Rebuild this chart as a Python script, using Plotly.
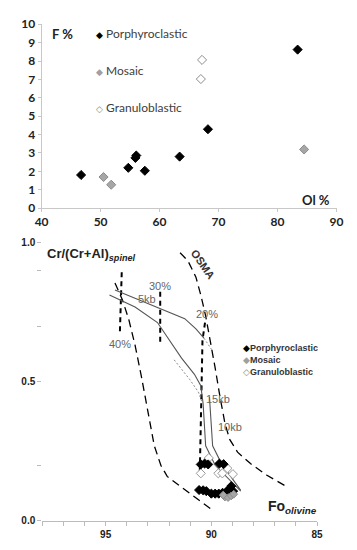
import plotly.graph_objects as go

# ---------------- Top panel: F % vs Ol % ----------------
top_porph_ol = [46.7, 54.7, 56.05, 55.9, 57.5, 63.4, 68.2, 83.4]
top_porph_f = [1.80, 2.19, 2.86, 2.73, 2.03, 2.80, 4.29, 8.62]
top_mosaic_ol = [50.5, 51.8, 84.5]
top_mosaic_f = [1.69, 1.27, 3.19]
top_gran_ol = [67.2, 67.0]
top_gran_f = [8.06, 7.02]
top_xticks = [40, 50, 60, 70, 80, 90]
top_yticks = [0, 1, 2, 3, 4, 5, 6, 7, 8, 9, 10]

# ---------------- Bottom panel: Cr# spinel vs Fo olivine ----------------
bot_porph_fo = [90.50, 90.32, 90.15, 89.62, 89.42, 90.58, 90.39, 90.24, 90.00,
                89.82, 89.65, 89.47, 89.29, 89.17, 89.06, 88.97]
bot_porph_cr = [0.203, 0.206, 0.203, 0.206, 0.204, 0.111, 0.110, 0.107, 0.098,
                0.098, 0.098, 0.101, 0.105, 0.113, 0.125, 0.107]
bot_mosaic_fo = [89.36, 89.21, 89.06, 88.94, 89.44]
bot_mosaic_cr = [0.086, 0.084, 0.090, 0.096, 0.093]
bot_gran_fo = [90.50, 90.12, 89.67, 89.48, 89.24, 88.98]
bot_gran_cr = [0.171, 0.226, 0.171, 0.171, 0.189, 0.168]

# dashed envelope curves
env_left_fo = [94.56, 94.21, 93.91, 93.61, 93.30, 93.00, 92.70, 92.39, 92.09, 91.48, 90.88, 89.97]
env_left_cr = [0.855, 0.795, 0.725, 0.632, 0.515, 0.387, 0.270, 0.200, 0.160, 0.125, 0.090, 0.040]
osma_fo = [91.48, 91.11, 90.73, 90.50, 90.27, 90.05, 89.82, 89.59, 89.36, 89.14, 88.76, 88.15, 87.39, 86.48]
osma_cr = [0.964, 0.935, 0.876, 0.812, 0.737, 0.649, 0.550, 0.445, 0.352, 0.294, 0.247, 0.206, 0.165, 0.125]

# melting isopleths (vertical dashes)
iso40_fo = [94.24, 94.33]
iso40_cr = [0.894, 0.672]
iso30_fo = [92.42, 92.42]
iso30_cr = [0.824, 0.638]
iso20_fo = [90.30, 90.42, 90.48, 90.55]
iso20_cr = [0.713, 0.649, 0.420, 0.166]

# solid melting trends
line5_fo = [94.56, 93.55, 92.55, 91.26, 90.73, 90.35]
line5_cr = [0.830, 0.798, 0.766, 0.727, 0.690, 0.657]
line5ext_fo = [90.35, 89.97]
line5ext_cr = [0.657, 0.614]
lineA_fo = [94.82, 93.61, 92.55, 91.94, 91.41, 90.80, 90.50, 90.39, 90.27, 89.82, 89.06, 88.61]
lineA_cr = [0.812, 0.769, 0.713, 0.643, 0.585, 0.527, 0.486, 0.422, 0.270, 0.200, 0.142, 0.107]
lineDot_fo = [91.76, 91.03, 90.61, 90.42]
lineDot_cr = [0.579, 0.509, 0.463, 0.422]
line15_fo = [90.09, 89.94, 89.52, 88.98, 88.61]
line15_cr = [0.445, 0.270, 0.206, 0.148, 0.110]

bot_xticks = [95, 90, 85]
bot_xminor = [98, 97, 96, 94, 93, 92, 91, 89, 88, 87, 86]
bot_yticks = [0.0, 0.5, 1.0]
bot_yminor = [0.2, 0.7, 0.9]

# curve labels: (text, Fo, Cr)
curve_labels = [("40%", 94.33, 0.635), ("30%", 92.42, 0.846), ("20%", 90.20, 0.745),
                ("5kb", 93.05, 0.797), ("15kb", 89.67, 0.438), ("10kb", 89.14, 0.337)]

fig = go.Figure()

# ---- top traces
fig.add_trace(go.Scatter(x=top_porph_ol, y=top_porph_f, mode="markers", xaxis="x", yaxis="y",
                         marker=dict(symbol="diamond", size=7, color="black",
                                     line=dict(color="black", width=1)), showlegend=False))
fig.add_trace(go.Scatter(x=top_mosaic_ol, y=top_mosaic_f, mode="markers", xaxis="x", yaxis="y",
                         marker=dict(symbol="diamond", size=7, color="#a6a6a6",
                                     line=dict(color="#8c8c8c", width=1)), showlegend=False))
fig.add_trace(go.Scatter(x=top_gran_ol, y=top_gran_f, mode="markers", xaxis="x", yaxis="y",
                         marker=dict(symbol="diamond", size=7, color="white",
                                     line=dict(color="#8c8c8c", width=1)), showlegend=False))

# ---- bottom lines
def add_line(xs, ys, color="black", width=1.3, dash="solid"):
    fig.add_trace(go.Scatter(x=xs, y=ys, mode="lines", xaxis="x2", yaxis="y2",
                             line=dict(color=color, width=width, dash=dash),
                             showlegend=False, hoverinfo="skip"))

add_line(env_left_fo, env_left_cr, "black", 1.3, "8px,5px")
add_line(osma_fo, osma_cr, "black", 1.3, "8px,5px")
add_line(iso40_fo, iso40_cr, "black", 2, "5px,4px")
add_line(iso30_fo, iso30_cr, "black", 2, "5px,4px")
add_line(iso20_fo, iso20_cr, "black", 2, "5px,4px")
add_line(line5_fo, line5_cr, "#555555", 1.1)
add_line(line5ext_fo, line5ext_cr, "#888888", 1, "2px,2px")
add_line(lineA_fo, lineA_cr, "#555555", 1.1)
add_line(lineDot_fo, lineDot_cr, "#888888", 1, "2px,2px")
add_line(line15_fo, line15_cr, "#555555", 1.1)

# ---- bottom markers
fig.add_trace(go.Scatter(x=bot_gran_fo, y=bot_gran_cr, mode="markers", xaxis="x2", yaxis="y2",
                         marker=dict(symbol="diamond", size=7, color="white",
                                     line=dict(color="#999999", width=1)), showlegend=False))
fig.add_trace(go.Scatter(x=bot_porph_fo, y=bot_porph_cr, mode="markers", xaxis="x2", yaxis="y2",
                         marker=dict(symbol="diamond", size=7, color="black",
                                     line=dict(color="black", width=1)), showlegend=False))
fig.add_trace(go.Scatter(x=bot_mosaic_fo, y=bot_mosaic_cr, mode="markers", xaxis="x2", yaxis="y2",
                         marker=dict(symbol="diamond", size=6, color="#a6a6a6",
                                     line=dict(color="#8c8c8c", width=1)), showlegend=False))

annotations = []
# top legend
top_leg = [("◆", "black", "Porphyroclastic", 9.47), ("◆", "#a0a0a0", "Mosaic", 7.48),
           ("◇", "#888888", "Granuloblastic", 5.49)]
for sym, col, name, yy in top_leg:
    annotations.append(dict(x=48.9, y=yy, xref="x", yref="y", xanchor="left", yanchor="middle",
                            showarrow=False,
                            text=f"<span style='color:{col};font-size:9px'>{sym}</span> {name}",
                            font=dict(family="Lato", size=12, color="#404040")))
annotations.append(dict(x=0.125, y=1 - 27.0 / 550, xref="paper", yref="paper", xanchor="left",
                        yanchor="middle", showarrow=False, text="<b>F %</b>",
                        font=dict(family="Lato", size=13, color="#222")))
annotations.append(dict(x=0.948, y=1 - 197 / 550, xref="paper", yref="paper", xanchor="right",
                        yanchor="middle", showarrow=False, text="<b>Ol %</b>",
                        font=dict(family="Lato", size=13, color="#222")))

# bottom legend
bot_leg = [("◆", "black", "Porphyroclastic", 349.3), ("◆", "#a0a0a0", "Mosaic", 361.7),
           ("◇", "#888888", "Granuloblastic", 374.0)]
for sym, col, name, py in bot_leg:
    annotations.append(dict(x=244 / 357, y=1 - py / 550, xref="paper", yref="paper",
                            xanchor="left", yanchor="middle", showarrow=False,
                            text=f"<span style='color:{col}'>{sym}</span><b>{name}</b>",
                            font=dict(family="Liberation Sans", size=9, color="#333")))

for txt, fo, cr in curve_labels:
    annotations.append(dict(x=fo, y=cr, xref="x2", yref="y2", showarrow=False, text=txt,
                            font=dict(family="Liberation Sans", size=11, color="#666666")))
annotations.append(dict(x=90.39, y=0.925, xref="x2", yref="y2", showarrow=False,
                        text="<b>OSMA</b>", textangle=55,
                        font=dict(family="Liberation Sans", size=11, color="#333")))
annotations.append(dict(x=40 / 357, y=1 - 253 / 550, xref="paper", yref="paper",
                        xanchor="left", yanchor="middle", showarrow=False,
                        text="<b>Cr/(Cr+Al)<sub><i>spinel</i></sub></b>",
                        font=dict(family="Liberation Sans", size=13, color="#222")))
annotations.append(dict(x=270 / 357, y=1 - 513 / 550, xref="paper", yref="paper",
                        xanchor="left", yanchor="middle", showarrow=False,
                        text="<b>Fo<sub><i>olivine</i></sub></b>",
                        font=dict(family="Liberation Sans", size=14, color="#222")))

fig.update_layout(
    width=357, height=550,
    margin=dict(l=0, r=0, t=0, b=0),
    paper_bgcolor="white", plot_bgcolor="white",
    showlegend=False,
    xaxis=dict(domain=[36 / 357, 343 / 357], range=[40, 90], tickvals=top_xticks,
               ticktext=[f"<b>{v}</b>" for v in top_xticks],
               showgrid=False, zeroline=False, showline=True, linecolor="#c8c8c8",
               ticks="outside", ticklen=3, tickcolor="#c8c8c8",
               tickfont=dict(family="Lato", size=12, color="#222"), anchor="y"),
    yaxis=dict(domain=[1 - 205.7 / 550, 1 - 16.7 / 550], range=[0, 10], tickvals=top_yticks,
               ticktext=[f"<b>{v}</b>" for v in top_yticks],
               showgrid=False, zeroline=False, showline=True, linecolor="#c8c8c8",
               ticks="outside", ticklen=3, tickcolor="#c8c8c8",
               tickfont=dict(family="Lato", size=12, color="#222"), anchor="x"),
    xaxis2=dict(domain=[36.7 / 357, 322.7 / 357], range=[98, 85], tickvals=bot_xticks,
                ticktext=["<b>95</b>", "<b>90</b>", "<b>85</b>"],
                showgrid=False, zeroline=False, showline=True, linecolor="#bbbbbb",
                ticks="outside", ticklen=4, tickcolor="#bbbbbb",
                minor=dict(tickvals=bot_xminor, ticks="outside", ticklen=4, tickcolor="#bbbbbb"),
                tickfont=dict(family="Liberation Sans", size=10, color="#222"), anchor="y2"),
    yaxis2=dict(domain=[1 - 527.3 / 550, 1 - 240.7 / 550], range=[0, 1.002], tickvals=bot_yticks,
                ticktext=["<b>0.0</b>", "<b>0.5</b>", "<b>1.0</b>"],
                showgrid=False, zeroline=False, showline=False,
                ticks="outside", ticklen=4, tickcolor="#bbbbbb",
                minor=dict(tickvals=bot_yminor, ticks="outside", ticklen=4, tickcolor="#bbbbbb"),
                tickfont=dict(family="Liberation Sans", size=10, color="#222"), anchor="x2"),
    annotations=annotations,
)

fig.write_html("out.html", config={"displayModeBar": False},
               post_script="document.body.style.margin='0px';")
